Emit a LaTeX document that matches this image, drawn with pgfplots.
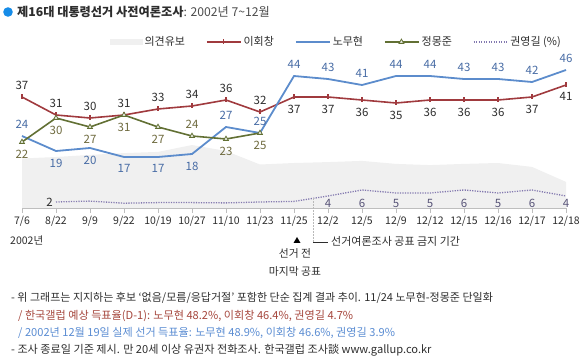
\documentclass[border=0pt]{standalone}
\usepackage{fontspec}
\setmainfont{Noto Sans CJK KR}
\usepackage{pgfplots}
\usepackage{pgfplotstable}
\pgfplotsset{compat=1.18}

\definecolor{leec}{RGB}{160,58,62}
\definecolor{rohc}{RGB}{92,140,204}
\definecolor{chungc}{RGB}{98,112,52}
\definecolor{kwonc}{RGB}{130,120,175}
\definecolor{undc}{RGB}{240,240,240}
\definecolor{bluet}{RGB}{22,140,232}
\definecolor{txt}{RGB}{45,45,45}
\definecolor{roht}{RGB}{72,108,165}
\definecolor{chungt}{RGB}{110,106,62}
\definecolor{kwont}{RGB}{88,84,120}
\definecolor{note1}{RGB}{165,70,60}
\definecolor{note2}{RGB}{90,140,210}
\definecolor{axisg}{RGB}{190,190,190}

\pgfplotstableread{
x v
0 16.5
1 17
2 17.7
3 18.3
4 18.7
5 21
6 19
7 14.5
8 15
9 15.3
10 15.7
11 14.7
12 14.3
13 14.7
14 15
15 13.7
16 8.7
}\undtab

\pgfplotstableread{
x v
0 37
1 31
2 30
3 31
4 33
5 34
6 36
7 32
8 37
9 37
10 36
11 35
12 36
13 36
14 36
15 37
16 41
}\leetab

\pgfplotstableread{
x v
0 24
1 19
2 20
3 17
4 17
5 18
6 27
7 25
8 44
9 43
10 41
11 44
12 44
13 43
14 43
15 42
16 46
}\rohtab

\pgfplotstableread{
x v
0 22
1 30
2 27
3 31
4 27
5 24
6 23
7 25
}\chungtab

\pgfplotstableread{
x v
1 2
2 2.3
3 1.6
4 1.8
5 1.8
6 1.7
7 2
8 2.2
9 4
10 6
11 5
12 5
13 6
14 5
15 6
16 4
}\kwontab

% label positions (above / below)
\pgfplotstableread{
x v
0 37
1 31
2 30
3 31
4 33
5 34
6 36
7 32
}\leeabove
\pgfplotstableread{
x v
8 37
9 37
10 36
11 35
12 36
13 36
14 36
15 37
16 41
}\leebelow
\pgfplotstableread{
x v
0 24
6 27
7 25
8 44
9 43
10 41
11 44
12 44
13 43
14 43
15 42
16 46
}\rohabove
\pgfplotstableread{
x v
1 19
2 20
3 17
4 17
5 18
}\rohbelow
\pgfplotstableread{
x v
5 24
}\chungabove
\pgfplotstableread{
x v
0 22
1 30
2 27
3 31
4 27
6 23
7 25
}\chungbelow

\pgfplotstableread{
x ly v
9 1.6 4
10 1.6 6
11 1.6 5
12 1.6 5
13 1.6 6
14 1.6 5
15 1.6 6
16 1.6 4
}\kwonlab

\pgfplotstableread{
x ly v
1 2 2
}\kwonfirst

\begin{document}
\begin{tikzpicture}[x=1pt,y=1pt]
\begin{axis}[
  at={(22pt,150pt)}, anchor=south west,
  scale only axis, width=544pt, height=150pt,
  xmin=0, xmax=16, ymin=0, ymax=50,
  clip=false,
  axis x line*=bottom, axis y line=none,
  x axis line style={draw=axisg, line width=0.8pt, -},
  xtick={0,...,16},
  xticklabels={7/6,8/22,9/9,9/22,10/19,10/27,11/10,11/23,11/25,12/2,12/5,12/9,12/12,12/15,12/16,12/17,12/18},
  xticklabel style={font=\fontsize{10.5}{12}\selectfont, text=txt},
  tick align=outside, major tick length=5pt,
  x tick style={draw=axisg, line width=0.8pt},
  ytick=\empty,
  legend columns=5,
  legend style={draw=none, fill=none, at={(0.155,1.107)}, anchor=west,
    font=\fontsize{11}{12}\selectfont, text=txt,
    /tikz/every even column/.append style={column sep=19pt}},
  legend image code/.code={\draw[mark repeat=2,mark phase=2,#1] plot coordinates {(0pt,0pt) (16.5pt,0pt) (34pt,0pt)};},
  nodes near coords style={font=\fontsize{11.5}{12}\selectfont, inner xsep=1pt, inner ysep=7.5pt},
  lab/.style={draw=none, forget plot, nodes near coords, point meta=explicit symbolic},
]
\addplot[fill=undc, draw=none, area legend,
  legend image code/.code={\fill[undc] (0pt,-3pt) rectangle (33pt,3pt);}]
  table[x=x,y=v]{\undtab} \closedcycle;
\addlegendentry{의견유보}

\addplot[leec, line width=1.6pt, mark=|, mark size=2.5pt, mark options={solid, line width=1.1pt}]
  table[x=x,y=v]{\leetab};
\addlegendentry{이회창}

\addplot[rohc, line width=1.8pt]
  table[x=x,y=v]{\rohtab};
\addlegendentry{노무현}

\addplot[chungc, line width=1.6pt, mark=triangle*, mark size=2.8pt,
  mark options={solid, fill=chungc!12, line width=0.8pt}]
  table[x=x,y=v]{\chungtab};
\addlegendentry{정몽준}

\addplot[kwonc, line width=1.3pt, dash pattern=on 1.2pt off 1.3pt]
  table[x=x,y=v]{\kwontab};
\addlegendentry{권영길 (\%)}

% labels
\addplot[lab, every node near coord/.append style={anchor=south, text=txt}] table[x=x,y=v,meta=v]{\leeabove};
\addplot[lab, every node near coord/.append style={anchor=north, text=txt}] table[x=x,y=v,meta=v]{\leebelow};
\addplot[lab, every node near coord/.append style={anchor=south, text=roht}] table[x=x,y=v,meta=v]{\rohabove};
\addplot[lab, every node near coord/.append style={anchor=north, text=roht}] table[x=x,y=v,meta=v]{\rohbelow};
\addplot[lab, every node near coord/.append style={anchor=south, text=chungt}] table[x=x,y=v,meta=v]{\chungabove};
\addplot[lab, every node near coord/.append style={anchor=north, text=chungt}] table[x=x,y=v,meta=v]{\chungbelow};
\addplot[lab, every node near coord/.append style={anchor=center, inner ysep=1pt, text=kwont}]
  table[x=x,y=ly,meta=v]{\kwonlab};
\addplot[lab, every node near coord/.append style={anchor=east, inner ysep=1pt, inner xsep=3pt, text=txt}]
  table[x=x,y=ly,meta=v]{\kwonfirst};
\end{axis}

% title
\fill[bluet] (8,346) circle (4.8);
\node[anchor=base west, inner sep=0pt, font=\fontsize{12.2}{14}\selectfont, text=txt] at (17,341)
  {\textbf{제16대 대통령선거 사전여론조사}\textcolor{txt!85}{: 2002년 7\textasciitilde12월}};

% annotations
\node[anchor=base west, inner sep=0pt, font=\fontsize{10.5}{12}\selectfont, text=txt] at (10,113) {2002년};
\fill[black] (293.5,115) -- (300.5,115) -- (297,121) -- cycle;
\node[anchor=base, inner sep=0pt, font=\fontsize{10.8}{12}\selectfont, text=txt] at (295,100) {선거 전};
\node[anchor=base, inner sep=0pt, font=\fontsize{10.8}{12}\selectfont, text=txt] at (295,82) {마지막 공표};
\draw[gray!55, line width=0.8pt, dash pattern=on 2pt off 1pt] (313,160) -- (313,116);
\draw[txt, line width=0.6pt] (313,116) -- (328,116);
\node[anchor=base west, inner sep=0pt, font=\fontsize{11}{12}\selectfont, text=txt] at (331,112) {선거여론조사 공표 금지 기간};

% footnotes
\node[anchor=base west, inner sep=0pt, font=\fontsize{11}{12}\selectfont, text=txt] at (11,56)
  {- 위 그래프는 지지하는 후보 ‘없음/모름/응답거절’ 포함한 단순 집계 결과 추이. 11/24 노무현-정몽준 단일화};
\node[anchor=base west, inner sep=0pt, font=\fontsize{11.1}{12}\selectfont, text=note1] at (18,38)
  {/ 한국갤럽 예상 득표율(D-1): 노무현 48.2\%, 이회창 46.4\%, 권영길 4.7\%};
\node[anchor=base west, inner sep=0pt, font=\fontsize{11.1}{12}\selectfont, text=note2] at (18,21)
  {/ 2002년 12월 19일 실제 선거 득표율: 노무현 48.9\%, 이회창 46.6\%, 권영길 3.9\%};
\node[anchor=base west, inner sep=0pt, font=\fontsize{11.1}{12}\selectfont, text=txt] at (11,4)
  {- 조사 종료일 기준 제시. 만 20세 이상 유권자 전화조사. 한국갤럽 조사談 www.gallup.co.kr};

\pgfresetboundingbox
\useasboundingbox (0,0) rectangle (584,358);
\end{tikzpicture}
\end{document}
